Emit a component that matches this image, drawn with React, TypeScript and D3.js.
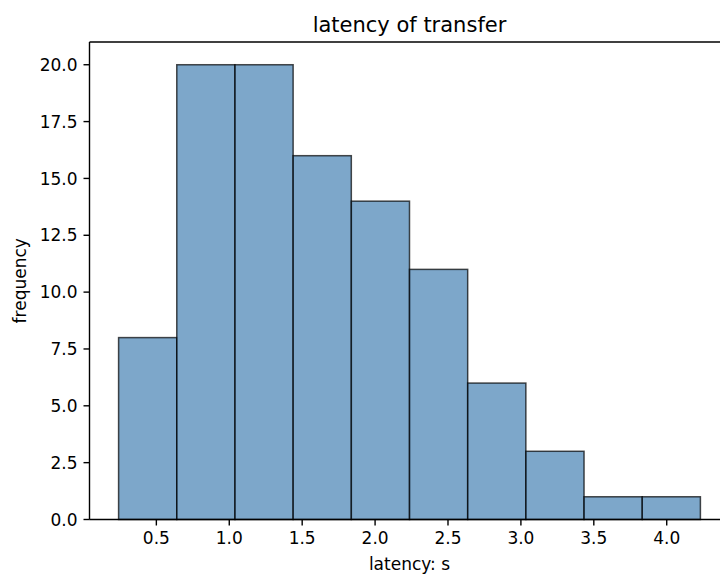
import React from "react";
import * as d3 from "d3";

const binEdges = [0.241, 0.64, 1.039, 1.438, 1.837, 2.236, 2.635, 3.034, 3.433, 3.832, 4.231];
const counts = [8, 20, 20, 16, 14, 11, 6, 3, 1, 1];
const xTicks = [0.5, 1.0, 1.5, 2.0, 2.5, 3.0, 3.5, 4.0];
const yTicks = [0, 2.5, 5, 7.5, 10, 12.5, 15, 17.5, 20];
const title = "latency of transfer";
const xLabel = "latency: s";
const yLabel = "frequency";

export default function App() {
  const W = 720, H = 575;
  const left = 89.5, right = 729.5, top = 42, bottom = 519.5;
  const span = binEdges[binEdges.length - 1] - binEdges[0];
  const x = d3.scaleLinear().domain([binEdges[0] - span * 0.05, binEdges[binEdges.length - 1] + span * 0.05]).range([left, right]);
  const yMax = (d3.max(counts) as number) * 1.05;
  const y = d3.scaleLinear().domain([0, yMax]).range([bottom, top]);
  const font = "DejaVu Sans, sans-serif";
  const fs = 17;
  return (
    <svg width={W} height={H} style={{ position: "absolute", left: 0, top: 0, background: "#fff" }} fontFamily={font}>
      <rect x={0} y={0} width={W} height={H} fill="#fff" />
      {counts.map((c, i) => (
        <rect key={i} x={x(binEdges[i])} y={y(c)} width={x(binEdges[i + 1]) - x(binEdges[i])} height={y(0) - y(c)}
          fill="steelblue" fillOpacity={0.7} stroke="#000" strokeOpacity={0.7} strokeWidth={1.5} />
      ))}
      <g stroke="#000" strokeWidth={1.4} fill="none">
        <line x1={left} x2={left} y1={top} y2={bottom} />
        <line x1={left} x2={right} y1={bottom} y2={bottom} />
        <line x1={left} x2={right} y1={top} y2={top} />
        <line x1={right} x2={right} y1={top} y2={bottom} />
      </g>
      {xTicks.map((t) => (
        <g key={t}>
          <line x1={x(t)} x2={x(t)} y1={bottom} y2={bottom + 6} stroke="#000" strokeWidth={1.4} />
          <text x={x(t)} y={bottom + 12} dy="0.76em" textAnchor="middle" fontSize={fs} fill="#000">{t.toFixed(1)}</text>
        </g>
      ))}
      {yTicks.map((t) => (
        <g key={t}>
          <line x1={left - 6} x2={left} y1={y(t)} y2={y(t)} stroke="#000" strokeWidth={1.4} />
          <text x={left - 12} y={y(t)} dy="0.36em" textAnchor="end" fontSize={fs} fill="#000">{t.toFixed(1)}</text>
        </g>
      ))}
      <text x={(left + right) / 2} y={32} textAnchor="middle" fontSize={21} fill="#000">{title}</text>
      <text x={(left + right) / 2} y={570} textAnchor="middle" fontSize={fs} fill="#000">{xLabel}</text>
      <text transform={`translate(25.5,${(top + bottom) / 2}) rotate(-90)`} textAnchor="middle" fontSize={fs} fill="#000">{yLabel}</text>
    </svg>
  );
}
